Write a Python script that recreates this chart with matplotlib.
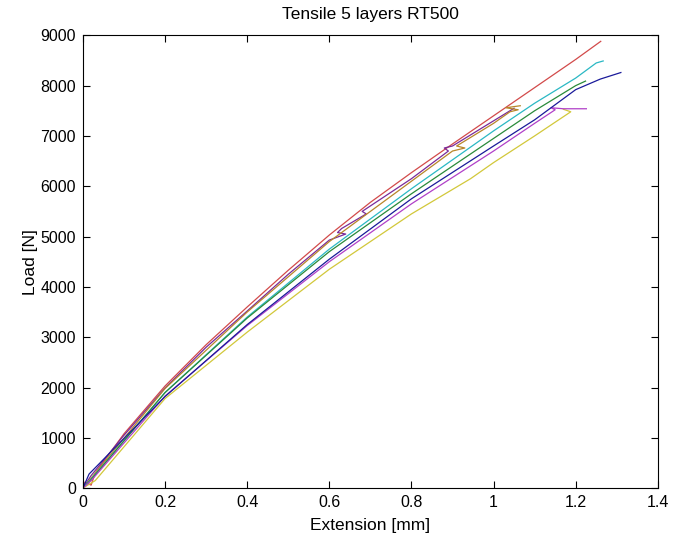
import matplotlib
matplotlib.use("Agg")
import matplotlib.pyplot as plt

plt.rcParams['font.family'] = ['Liberation Sans', 'DejaVu Sans']

title = "Tensile 5 layers RT500"
xlabel = "Extension [mm]"
ylabel = "Load [N]"
xticks = [0, 0.2, 0.4, 0.6, 0.8, 1.0, 1.2, 1.4]
xticklabels = ["0", "0.2", "0.4", "0.6", "0.8", "1", "1.2", "1.4"]
yticks = [0, 1000, 2000, 3000, 4000, 5000, 6000, 7000, 8000, 9000]

# Series (extension mm, load N)
red_x = [0, 0.005, 0.02, 0.03, 0.1, 0.2, 0.3, 0.4, 0.5, 0.6, 0.7, 0.8, 0.9, 1.0, 1.1, 1.2, 1.261]
red_y = [0, 120, 60, 300, 1080, 2030, 2850, 3600, 4330, 5030, 5680, 6270, 6840, 7400, 7960, 8520, 8880]

purple_x = [0, 0.02, 0.1, 0.2, 0.3, 0.4, 0.5, 0.6, 0.64, 0.62, 0.63, 0.69, 0.68, 0.8, 0.89, 0.88, 0.9, 1.0, 1.05]
purple_y = [0, 250, 1050, 1990, 2800, 3520, 4250, 4930, 5050, 5080, 5160, 5450, 5500, 6150, 6700, 6760, 6800, 7300, 7550]

brown_x = [0, 0.02, 0.2, 0.4, 0.6, 0.8, 0.9, 0.93, 0.91, 1.0, 1.04, 1.06, 1.03, 1.065]
brown_y = [0, 200, 1980, 3500, 4900, 6100, 6700, 6760, 6800, 7250, 7480, 7520, 7560, 7600]

cyan_x = [0, 0.02, 0.2, 0.4, 0.6, 0.8, 1.0, 1.1, 1.2, 1.25, 1.267]
cyan_y = [0, 180, 1900, 3400, 4750, 5950, 7100, 7650, 8150, 8450, 8490]

green_x = [0, 0.02, 0.2, 0.4, 0.6, 0.8, 1.0, 1.1, 1.2, 1.224]
green_y = [0, 170, 1900, 3380, 4700, 5850, 6950, 7500, 8000, 8090]

blue_x = [0, 0.015, 0.2, 0.4, 0.6, 0.8, 1.0, 1.1, 1.2, 1.26, 1.31]
blue_y = [0, 280, 1820, 3250, 4550, 5750, 6800, 7320, 7920, 8130, 8260]

magenta_x = [0, 0.02, 0.2, 0.4, 0.6, 0.8, 1.0, 1.1, 1.15, 1.14, 1.17, 1.226]
magenta_y = [0, 150, 1830, 3230, 4500, 5650, 6700, 7250, 7520, 7560, 7540, 7540]

yellow_x = [0, 0.03, 0.2, 0.4, 0.6, 0.8, 0.944, 1.0, 1.1, 1.188, 1.17]
yellow_y = [0, 150, 1780, 3100, 4350, 5450, 6150, 6470, 7000, 7480, 7530]

series = [
    (red_x, red_y, "#d24a4a"),
    (purple_x, purple_y, "#7a2a9a"),
    (brown_x, brown_y, "#b8862a"),
    (cyan_x, cyan_y, "#2ab8c4"),
    (green_x, green_y, "#2a8a3a"),
    (yellow_x, yellow_y, "#d2c83a"),
    (magenta_x, magenta_y, "#b040c8"),
    (blue_x, blue_y, "#1a1a9a"),
]

fig = plt.figure(figsize=(6.74, 5.43), dpi=100)
ax = fig.add_axes([0.123, 0.101, 0.853, 0.834])
for xs, ys, c in series:
    ax.plot(xs, ys, color=c, lw=0.9)

ax.set_xlim(0, 1.4)
ax.set_ylim(0, 9000)
ax.set_xticks(xticks)
ax.set_xticklabels(xticklabels)
ax.set_yticks(yticks)
ax.tick_params(direction='in', top=True, right=True, length=5, width=0.8, labelsize=11.5, pad=5)
for s in ax.spines.values():
    s.set_linewidth(0.8)
ax.set_title(title, fontsize=12.5, pad=12)
ax.set_xlabel(xlabel, fontsize=12.5, labelpad=6)
ax.set_ylabel(ylabel, fontsize=12.5, labelpad=2)

fig.savefig("out.png", dpi=100)
